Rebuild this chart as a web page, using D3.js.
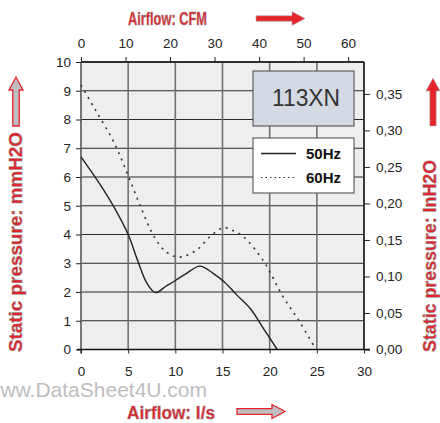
<!DOCTYPE html>
<html><head><meta charset="utf-8">
<script src="https://cdn.jsdelivr.net/npm/d3@7/dist/d3.min.js"></script>
<style>body{margin:0;background:#fff}svg{display:block}text{font-family:"Liberation Sans",Arial,sans-serif}</style>
</head><body><svg id="c" width="440" height="423"></svg>
<script>
const flowTicksLs = [0,5,10,15,20,25,30];
const flowTicksCfm = [0,10,20,30,40,50,60];
const pressTicksMm = [0,1,2,3,4,5,6,7,8,9,10];
const pressTicksIn = [0,0.05,0.10,0.15,0.20,0.25,0.30,0.35];
const curve50 = [[0,6.7],[2,5.75],[3.5,4.95],[5,4.0],[6,3.1],[7,2.3],[7.9,1.98],[9,2.2],[10,2.4],[11.2,2.65],[12.6,2.9],[14,2.65],[15.2,2.35],[16.5,1.9],[18,1.4],[19.3,0.75],[20.8,0]];
const curve60 = [[0,9.2],[1.5,8.35],[3.5,7.2],[5,6.05],[6.4,4.9],[7.8,3.9],[9,3.4],[10.1,3.22],[11,3.25],[12.3,3.47],[13.7,3.93],[15.1,4.24],[16,4.15],[17.2,3.93],[19.3,3.1],[21.4,1.85],[23.2,0.95],[24.9,0]];
const legendLabels = ["50Hz","60Hz"];
const modelName = "113XN";

const svg = d3.select("#c");
const L=81, R=364, T=62, B=349.5;
const x = d3.scaleLinear().domain([0,30]).range([L,R]);
const xc = d3.scaleLinear().domain([0,30*2.1189]).range([L,R]);
const y = d3.scaleLinear().domain([0,10]).range([B,T]);
const yi = d3.scaleLinear().domain([0,10/25.4]).range([B,T]);

svg.append("rect").attr("x",L).attr("y",T).attr("width",R-L).attr("height",B-T).attr("fill","#eeeeee");
// grid
svg.append("g").selectAll("line").data(pressTicksMm).join("line")
 .attr("x1",L).attr("x2",R).attr("y1",d=>y(d)).attr("y2",d=>y(d)).attr("stroke","#2a2a2a").attr("stroke-width",1.1);
svg.append("g").selectAll("line").data(flowTicksLs).join("line")
 .attr("y1",T).attr("y2",B).attr("x1",d=>x(d)).attr("x2",d=>x(d)).attr("stroke","#707070").attr("stroke-width",1.6);
// frame
svg.append("line").attr("x1",L).attr("x2",L).attr("y1",T).attr("y2",B+4).attr("stroke","#777").attr("stroke-width",2);
svg.append("line").attr("x1",R).attr("x2",R).attr("y1",T).attr("y2",B).attr("stroke","#111").attr("stroke-width",1.3);
svg.append("line").attr("x1",L).attr("x2",R).attr("y1",T).attr("y2",T).attr("stroke","#111").attr("stroke-width",1.3);
svg.append("line").attr("x1",L-4).attr("x2",R+6).attr("y1",B).attr("y2",B).attr("stroke","#111").attr("stroke-width",1.3);

function styleAxis(g){g.select(".domain").remove();g.selectAll(".tick line").attr("stroke","#222");g.selectAll("text").attr("fill","#222").attr("font-size",13.5).attr("font-family","Liberation Sans, Arial, sans-serif");}
svg.append("g").attr("transform",`translate(${L},0)`).call(d3.axisLeft(y).tickValues(pressTicksMm).tickSize(5).tickPadding(5).tickFormat(d3.format("d"))).call(styleAxis);
svg.append("g").attr("transform",`translate(${R},0)`).call(d3.axisRight(yi).tickValues(pressTicksIn).tickSize(6).tickPadding(6).tickFormat(d=>d3.format(".2f")(d).replace(".",","))).call(styleAxis);
svg.append("g").attr("transform",`translate(0,${B})`).call(d3.axisBottom(x).tickValues(flowTicksLs).tickSize(4).tickPadding(13).tickFormat(d3.format("d"))).call(styleAxis);
svg.append("g").attr("transform",`translate(0,${T})`).call(d3.axisTop(xc).tickValues(flowTicksCfm).tickSize(5).tickPadding(9).tickFormat(d3.format("d"))).call(styleAxis);

const line = d3.line().x(d=>x(d[0])).y(d=>y(d[1])).curve(d3.curveCatmullRom.alpha(0.5));
svg.append("path").datum(curve50).attr("d",line).attr("fill","none").attr("stroke","#222").attr("stroke-width",1.4);
svg.append("path").datum(curve60).attr("d",line).attr("fill","none").attr("stroke","#333").attr("stroke-width",1.6).attr("stroke-dasharray","2,5");

// model box
svg.append("rect").attr("x",253).attr("y",71).attr("width",101).attr("height",55).attr("fill","#d4dae3").attr("stroke","#444").attr("stroke-width",1);
svg.append("text").attr("x",306).attr("y",106).attr("text-anchor","middle").attr("font-size",23).attr("fill","#333").attr("textLength",68).attr("lengthAdjust","spacingAndGlyphs").text(modelName);
// legend
svg.append("rect").attr("x",253).attr("y",138).attr("width",101).attr("height",55).attr("fill","#fff").attr("stroke","#444").attr("stroke-width",1);
svg.append("line").attr("x1",261).attr("x2",296).attr("y1",153.5).attr("y2",153.5).attr("stroke","#222").attr("stroke-width",1.6);
svg.append("line").attr("x1",261).attr("x2",296).attr("y1",177.5).attr("y2",177.5).attr("stroke","#333").attr("stroke-width",1.2).attr("stroke-dasharray","1.5,3");
svg.selectAll(".lg").data(legendLabels).join("text").attr("class","lg").attr("x",306).attr("y",(d,i)=>159+i*24)
 .attr("font-size",15).attr("font-weight","bold").attr("fill","#111").text(d=>d);

// titles
const red="#e5232b";
function title(txt,xx,yy,len,rot){
  const t=svg.append("text").attr("font-size",19).attr("font-weight","bold").attr("fill",red).attr("stroke","#8a8a8a").attr("stroke-width",0.5)
   .attr("textLength",len).attr("lengthAdjust","spacingAndGlyphs").text(txt);
  if(rot){t.attr("transform",`translate(${xx},${yy}) rotate(-90)`);} else {t.attr("x",xx).attr("y",yy);}
}
title("Airflow: CFM",128,24.5,79,false);
title("Airflow: l/s",127,418.5,88,false);
title("Static pressure: mmH2O",22,352,220,true);
title("Static pressure: InH2O",436,352,192,true);

function hArrow(x0,x1,cy,fill){
  const hl=13, sh=2.8, hh=7;
  svg.append("path").attr("d",`M${x0},${cy-sh}L${x1-hl},${cy-sh}L${x1-hl},${cy-hh}L${x1},${cy}L${x1-hl},${cy+hh}L${x1-hl},${cy+sh}L${x0},${cy+sh}Z`)
   .attr("fill",fill).attr("stroke",fill==="#bfbfc3"?red:"#b0b0b0").attr("stroke-width",fill==="#bfbfc3"?1.3:0.6);
}
function vArrow(cx,y0,y1,fill){
  const hl=13, sh=3.2, hh=7;
  svg.append("path").attr("d",`M${cx-sh},${y0}L${cx-sh},${y1+hl}L${cx-hh},${y1+hl}L${cx},${y1}L${cx+hh},${y1+hl}L${cx+sh},${y1+hl}L${cx+sh},${y0}Z`)
   .attr("fill",fill).attr("stroke",fill==="#bfbfc3"?red:"#b0b0b0").attr("stroke-width",fill==="#bfbfc3"?1.3:0.6);
}
hArrow(256,305,18.5,red);
hArrow(237,285,411.5,"#bfbfc3");
vArrow(16,126,77,"#bfbfc3");
vArrow(433,126,78,red);

svg.append("text").attr("x",207).attr("y",397).attr("text-anchor","end").attr("font-size",21).attr("fill","#bdbdbd").text("www.DataSheet4U.com");
</script></body></html>
